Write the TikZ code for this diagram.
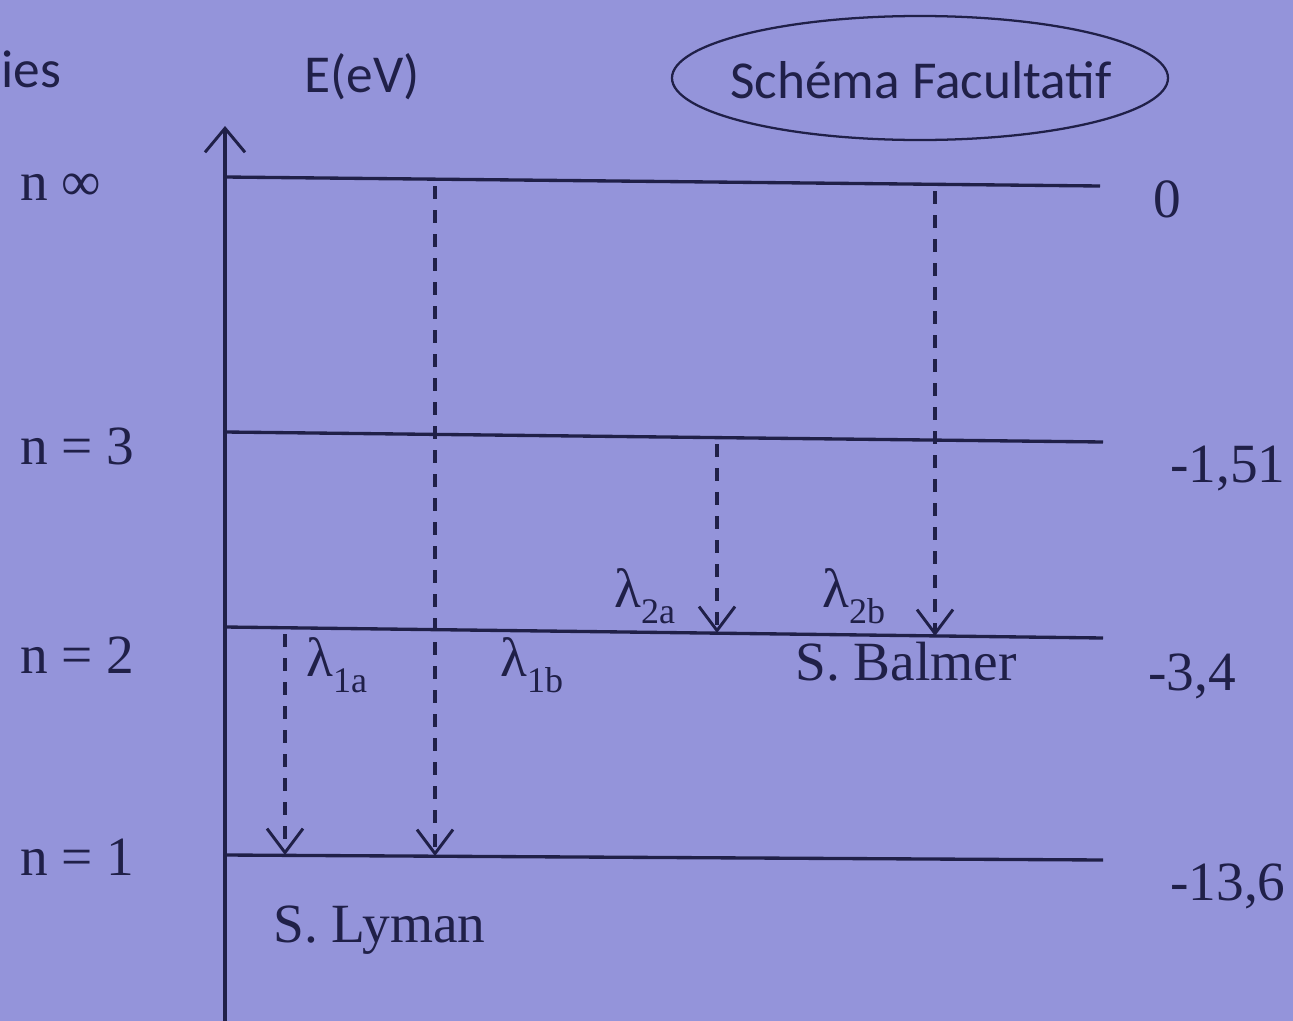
\documentclass[tikz,border=0pt]{standalone}
\usepackage{fontspec}
\setmainfont{Liberation Serif}
\newfontfamily\sansf{Carlito}
\usetikzlibrary{arrows.meta,shapes.geometric}
\definecolor{bg}{RGB}{148,148,218}
\definecolor{ink}{RGB}{32,32,72}
\newcommand\lsub[1]{\raisebox{-0.3em}{\fontsize{27}{27}\selectfont #1}}
\begin{document}
\begin{tikzpicture}[x=0.75pt,y=-0.75pt,
  lvl/.style={draw=ink,line width=2.5pt},
  trans/.style={draw=ink,line width=2.5pt,dash pattern=on 10pt off 8pt,
    -{Straight Barb[length=18pt,width=27pt,line width=2.2pt]}},
  txt/.style={text=ink,font=\fontsize{41.5}{44}\selectfont,inner sep=0pt,anchor=base west},
  stxt/.style={text=ink,font=\sansf\fontsize{40}{42}\selectfont,inner sep=0pt,anchor=base west}]
\useasboundingbox (0,0) rectangle (1293,1021);
\fill[bg] (0,0) rectangle (1293,1021);

% axis
\coordinate (axb) at (225,1021);
\coordinate (axt) at (225,126);
\draw[draw=ink,line width=2.5pt,-{Straight Barb[length=18pt,width=30pt,line width=2.2pt]}] (axb) -- (axt);

% levels
\coordinate (Linf) at (225,177); \coordinate (Rinf) at (1100,186);
\coordinate (L3) at (225,432);   \coordinate (R3) at (1103,442);
\coordinate (L2) at (225,627);   \coordinate (R2) at (1103,638);
\coordinate (L1) at (225,855);   \coordinate (R1) at (1103,860);
\draw[lvl] (Linf) -- (Rinf);
\draw[lvl] (L3) -- (R3);
\draw[lvl] (L2) -- (R2);
\draw[lvl] (L1) -- (R1);

% transition end points
\coordinate (a2) at (285,634);  \coordinate (a1) at (285,855);
\coordinate (binf) at (435,186); \coordinate (b1) at (435,856);
\coordinate (c3) at (717,444);  \coordinate (c2) at (717,633);
\coordinate (dinf) at (935,191); \coordinate (d2) at (935,636);
\draw[trans] (a2) -- (a1);
\draw[trans] (binf) -- (b1);
\draw[trans] (c3) -- (c2);
\draw[trans] (dinf) -- (d2);

% titles
\node[stxt] (ies) at (1,87) {ies};
\node[stxt] (E) at (304,92) {E(eV)};
\node[text=ink,inner sep=0pt,font=\sansf\fontsize{40}{42}\selectfont] (sf) at (921,80) {Schéma Facultatif};
\draw[draw=ink,line width=1.7pt] (920,78) ellipse [x radius=186pt,y radius=46.5pt];

% left labels
\node[txt] (ninf) at (20,200) {n ∞};
\node[txt] (n3) at (20,464) {n = 3};
\node[txt] (n2) at (20,673) {n = 2};
\node[txt] (n1) at (20,875) {n = 1};

% right labels
\node[txt] (e0) at (1153,217) {0};
\node[txt] (e3) at (1170,482) {-1,51};
\node[txt] (e2) at (1148,690) {-3,4};
\node[txt] (e1) at (1170,900) {-13,6};

% wavelengths
\node[txt] (l1a) at (306,676) {λ\lsub{1a}};
\node[txt] (l1b) at (500,676) {λ\lsub{1b}};
\node[txt] (l2a) at (614,607) {λ\lsub{2a}};
\node[txt] (l2b) at (822,607) {λ\lsub{2b}};

% series
\node[txt] (balmer) at (795,680) {S. Balmer};
\node[txt] (lyman) at (273,942) {S. Lyman};
\end{tikzpicture}
\end{document}
